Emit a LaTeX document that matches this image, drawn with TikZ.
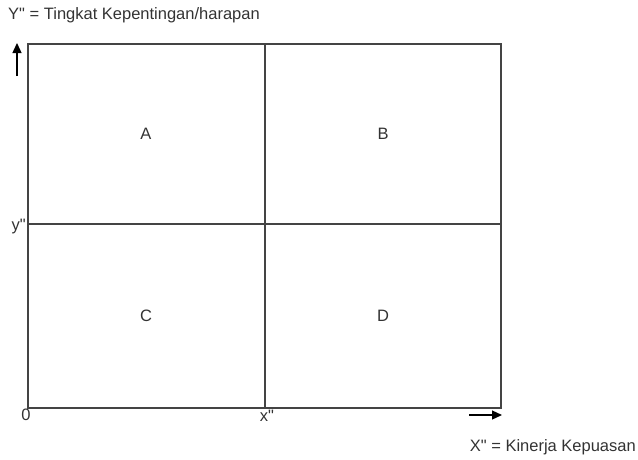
\documentclass[tikz,border=0pt]{standalone}
\usepackage{fontspec}
\setmainfont{Liberation Sans}
\newfontfamily\arialfont{Liberation Sans}
\usetikzlibrary{arrows.meta}
\definecolor{ink}{HTML}{333333}
\definecolor{linec}{HTML}{444444}
\begin{document}
\begin{tikzpicture}[x=1pt,y=-1pt,
  lbl/.style={text=ink,font=\arialfont\fontsize{16.5}{19}\selectfont,inner sep=0pt},
  quad/.style={text=ink,font=\arialfont\fontsize{16.5}{19}\selectfont,inner sep=0pt},
  frame/.style={draw=linec,line width=1.4pt},
  axarrow/.style={draw=black,line width=1.3pt,-{Triangle[length=10pt,width=9pt]}}]
\useasboundingbox (0,0) rectangle (638,459);
\coordinate (tl) at (28,44);
\coordinate (br) at (501,408);
\coordinate (tm) at (265,44);
\coordinate (bm) at (265,408);
\coordinate (lm) at (28,224);
\coordinate (rm) at (501,224);
\draw[frame] (tl) rectangle (br);
\draw[frame] (tm) -- (bm);
\draw[frame] (lm) -- (rm);
\coordinate (ya0) at (17,76);
\coordinate (ya1) at (17,43);
\draw[axarrow] (ya0) -- (ya1);
\coordinate (xa0) at (469,415);
\coordinate (xa1) at (502,415);
\draw[axarrow] (xa0) -- (xa1);
\node[lbl,anchor=west] (ytitle) at (8,15) {Y" = Tingkat Kepentingan/harapan};
\node[lbl,anchor=east] (ylab) at (26,227) {y"};
\node[lbl] (zero) at (26,415) {0};
\node[lbl] (xlab) at (267,416) {x"};
\node[lbl,anchor=east] (xtitle) at (636,447) {X" = Kinerja Kepuasan};
\node[quad] (A) at (146,134) {A};
\node[quad] (B) at (383,134) {B};
\node[quad] (C) at (146,316) {C};
\node[quad] (D) at (383,316) {D};
\end{tikzpicture}
\end{document}
